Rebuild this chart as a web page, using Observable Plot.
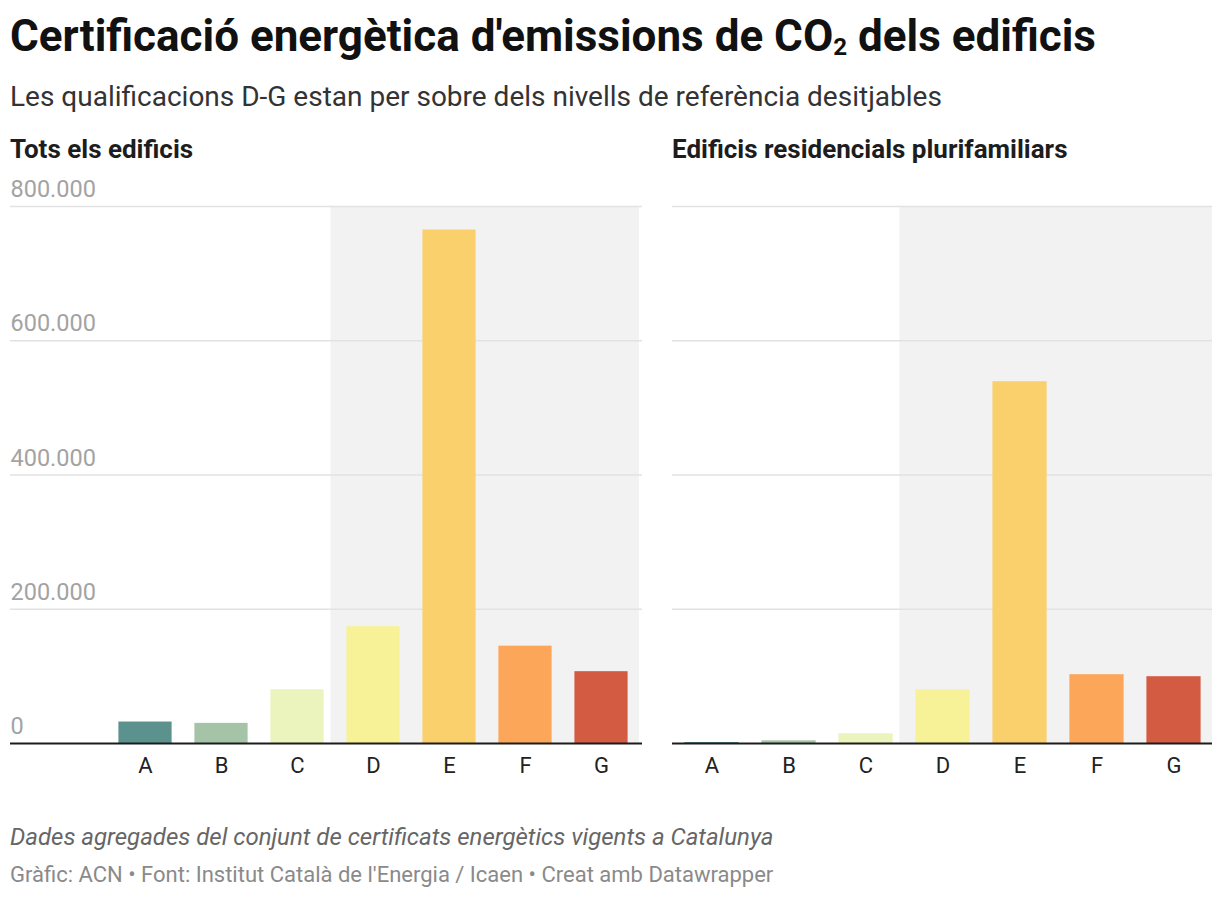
<!DOCTYPE html>
<html>
<head>
<meta charset="utf-8">
<script src="https://cdn.jsdelivr.net/npm/d3@7"></script>
<script src="https://cdn.jsdelivr.net/npm/@observablehq/plot@0.6"></script>
<style>
  html, body { margin: 0; padding: 0; background: #fff; }
  #page { position: relative; width: 1220px; height: 898px; font-family: Roboto, "Noto Sans", sans-serif; color: #1d1d1d; overflow: hidden; }
  .txt { position: absolute; left: 10px; white-space: nowrap; line-height: 1; }
  .title { top: 14px; font-size: 44px; font-weight: 700; color: #111; }
  .title sub { font-size: 0.55em; vertical-align: -0.15em; line-height: 0; }
  .subtitle { top: 83px; font-size: 28px; color: #333; }
  .panel-title { top: 136px; font-size: 26px; font-weight: 700; color: #1d1d1d; }
  .caption { top: 825px; font-size: 24px; font-style: italic; color: #666; }
  .footer { top: 864px; font-size: 22px; color: #8a8a8a; }
  .panel { position: absolute; top: 172px; }
  .panel svg { overflow: visible; }
</style>
</head>
<body>
<div id="page">
  <div class="txt title">Certificació energètica d'emissions de CO<sub>2</sub> dels edificis</div>
  <div class="txt subtitle">Les qualificacions D-G estan per sobre dels nivells de referència desitjables</div>
  <div class="txt panel-title" style="left:10px">Tots els edificis</div>
  <div class="txt panel-title" style="left:672px">Edificis residencials plurifamiliars</div>
  <div class="panel" id="left" style="left:0px"></div>
  <div class="panel" id="right" style="left:672px"></div>
  <div class="txt caption">Dades agregades del conjunt de certificats energètics vigents a Catalunya</div>
  <div class="txt footer">Gràfic: ACN • Font: Institut Català de l'Energia / Icaen • Creat amb Datawrapper</div>
</div>
<script>
// Energy ratings and the number of CO2 certificates in each one
const ratings = ["A", "B", "C", "D", "E", "F", "G"];
const allBuildings = [32000, 30000, 80000, 174000, 765000, 145000, 107000];
const multiFamilyResidential = [1500, 4000, 14500, 80000, 539000, 102500, 99500];
const ratingColors = ["#5c928e", "#a4c3a7", "#eaf4bc", "#f7f298", "#fad06c", "#fca65a", "#d25b41"];
// Ratings above the desirable reference levels get a grey backdrop
const highlightedRatings = ["D", "E", "F", "G"];
const yTicks = [0, 200000, 400000, 600000, 800000];
const yMax = 800000;

const catalan = d3.formatLocale({decimal: ",", thousands: ".", grouping: [3], currency: ["", " €"]});
const fmt = catalan.format(",");

function panel(values, {width, marginLeft, xRange, showYAxis}) {
  const rows = ratings.map((rating, i) => ({rating, value: values[i]}));
  return Plot.plot({
    width,
    height: 618,
    marginTop: 34,
    marginBottom: 47,
    marginLeft,
    marginRight: 0,
    style: {fontFamily: "Roboto, sans-serif", background: "transparent", overflow: "visible"},
    x: {domain: ratings, range: xRange, padding: 0, label: null, axis: null},
    y: {domain: [0, yMax], label: null, axis: null},
    color: {domain: ratings, range: ratingColors},
    marks: [
      Plot.barY(highlightedRatings, {x: (d) => d, y: () => yMax, fill: "#f2f2f2", insetLeft: -4.5, insetRight: 0}),
      Plot.ruleY(yTicks.slice(1), {stroke: "#e2e2e2", strokeWidth: 1.3}),
      Plot.barY(rows, {x: "rating", y: "value", fill: "rating", insetLeft: 11.4, insetRight: 11.4}),
      Plot.ruleY([0], {stroke: "#1c1c1c", strokeWidth: 2}),
      Plot.axisX({tickSize: 0, tickPadding: 14, fontSize: 22, fill: "#222", label: null}),
      showYAxis
        ? Plot.axisY({ticks: yTicks, tickSize: 0, tickPadding: 0, textAnchor: "start", dy: -17,
            tickFormat: fmt, fontSize: 23.5, fill: "#a3a3a3", label: null})
        : null
    ]
  });
}

document.getElementById("left").append(
  panel(allBuildings, {width: 642, marginLeft: 10, xRange: [104.4, 642], showYAxis: true})
);
document.getElementById("right").append(
  panel(multiFamilyResidential, {width: 540, marginLeft: 0, xRange: [0, 540], showYAxis: false})
);
</script>
</body>
</html>
